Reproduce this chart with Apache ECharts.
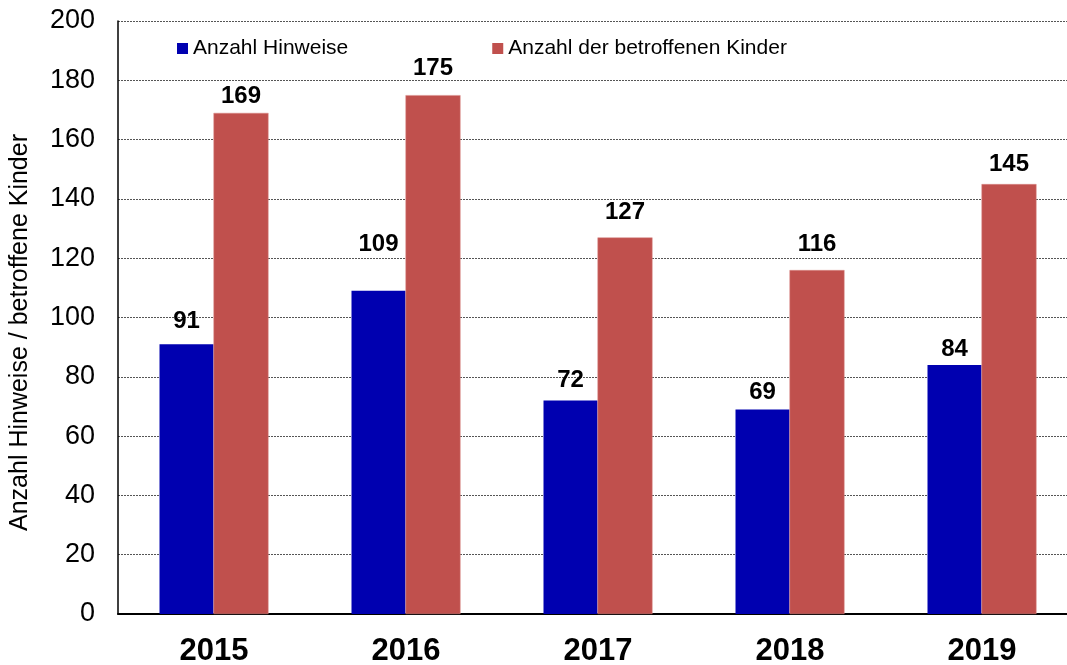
<!DOCTYPE html>
<html>
<head>
<meta charset="utf-8">
<script src="https://cdn.jsdelivr.net/npm/echarts@6/dist/echarts.min.js"></script>
<style>
  html, body { margin: 0; padding: 0; background: #fff; }
  #chart { width: 1067px; height: 665px; }
</style>
</head>
<body>
<div id="chart"></div>
<script>
var years = ['2015', '2016', '2017', '2018', '2019'];
var hinweise = [91, 109, 72, 69, 84];
var kinder = [169, 175, 127, 116, 145];
var yTicks = { min: 0, max: 200, interval: 20 };

var font = 'Arial, "Liberation Sans", sans-serif';

var myChart = echarts.init(document.getElementById('chart'));

var labelStyle = {
    show: true,
    position: 'top',
    distance: 8,
    fontFamily: font,
    fontSize: 24,
    fontWeight: 'bold',
    color: '#000'
};

// labels in the original were placed by hand, nudge a few of them
function withNudge(values, nudges) {
    return values.map(function(v, i) {
        if (nudges[i]) {
            return { value: v, label: { offset: [0, nudges[i]] } };
        }
        return v;
    });
}

var option = {
    animation: false,
    grid: {
        left: 118,
        top: 21,
        width: 960,
        bottom: 51,
        containLabel: false,
        outerBoundsMode: 'none'
    },
    legend: {
        top: 33,
        left: 172,
        itemWidth: 11,
        itemHeight: 11,
        itemGap: 144,
        icon: 'rect',
        itemStyle: { borderWidth: 0 },
        textStyle: {
            fontFamily: font,
            fontSize: 21,
            color: '#000'
        },
        data: ['Anzahl Hinweise', 'Anzahl der betroffenen Kinder']
    },
    xAxis: {
        type: 'category',
        data: years,
        axisLine: { lineStyle: { color: '#000', width: 2 } },
        axisTick: { show: false },
        axisLabel: {
            margin: 22,
            fontFamily: font,
            fontSize: 31,
            fontWeight: 'bold',
            color: '#000'
        }
    },
    yAxis: {
        type: 'value',
        min: yTicks.min,
        max: yTicks.max,
        interval: yTicks.interval,
        name: 'Anzahl Hinweise / betroffene Kinder',
        nameLocation: 'middle',
        nameGap: 85,
        nameTextStyle: {
            fontFamily: font,
            fontSize: 25,
            color: '#000',
            padding: [0, 0, 0, -30]
        },
        axisLine: { show: true, lineStyle: { color: '#000', width: 1.5 } },
        axisTick: { show: false },
        axisLabel: {
            margin: 23,
            fontFamily: font,
            fontSize: 27,
            color: '#000'
        },
        splitLine: {
            lineStyle: { color: '#555', type: [2, 1], width: 1 }
        }
    },
    series: [{
        name: 'Anzahl Hinweise',
        type: 'bar',
        barWidth: 54,
        barGap: '0%',
        itemStyle: { color: '#0000B0' },
        label: labelStyle,
        data: withNudge(hinweise, [-3, -26, 0, 3, 4])
    }, {
        name: 'Anzahl der betroffenen Kinder',
        type: 'bar',
        barWidth: 55,
        itemStyle: { color: '#C0504D', borderColor: '#D98A88', borderWidth: 0.5 },
        label: labelStyle,
        data: withNudge(kinder, [3, -7, -5, -6, 0])
    }]
};

myChart.setOption(option);
</script>
</body>
</html>
